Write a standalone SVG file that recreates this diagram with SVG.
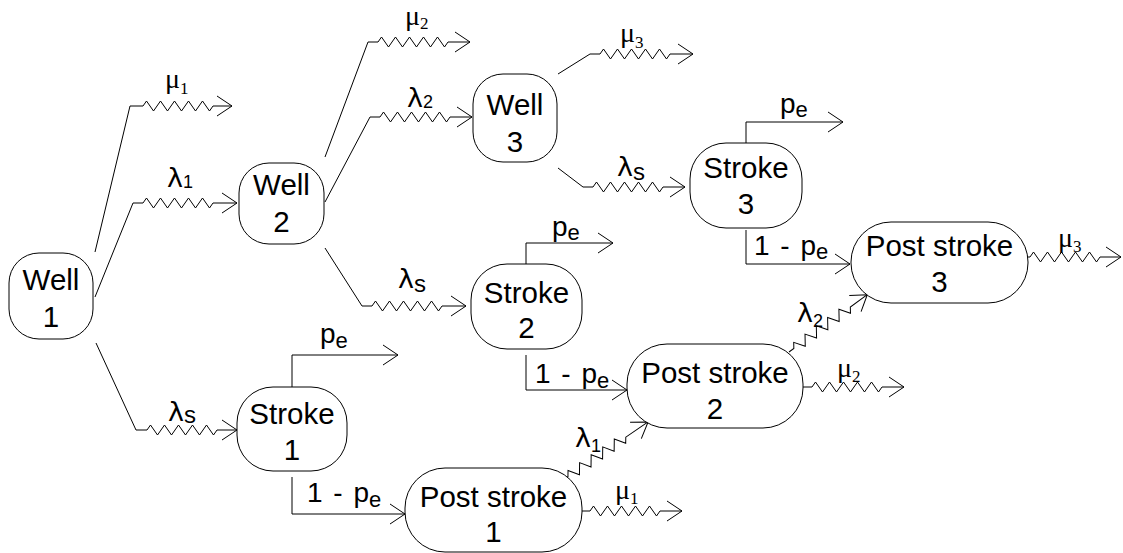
<svg xmlns="http://www.w3.org/2000/svg" width="1123" height="553" viewBox="0 0 1123 553">
<style>
.box{fill:#fff;stroke:#000;stroke-width:1}
.nt{font-family:"Liberation Sans",Arial,sans-serif;font-size:29.5px;text-anchor:middle;fill:#000}
.c{fill:none;stroke:#000;stroke-width:1}
.la{font-family:"DejaVu Sans","Liberation Sans",sans-serif;font-size:27px;fill:#000}
.mu{font-family:"Liberation Serif","Times New Roman",serif;font-size:28px;fill:#000}
.sd{font-family:"Liberation Sans",Arial,sans-serif;font-size:18px}
.ss{font-family:"Liberation Serif","Times New Roman",serif;font-size:17px}
.sv{font-family:"Liberation Sans",Arial,sans-serif;font-size:24px}
.lb{font-family:"Liberation Sans",Arial,sans-serif;font-size:28px;fill:#000;word-spacing:3px}
.se{font-size:22px}
</style>
<defs>
<marker id="arr" markerUnits="userSpaceOnUse" markerWidth="18" markerHeight="24" viewBox="-1 -1 18 24" refX="15" refY="10" orient="auto" overflow="visible">
<path d="M0,0 L15,10 L0,20" fill="none" stroke="#000" stroke-width="1"/>
</marker>
</defs>
<g id="connectors">
<path class="c" marker-end="url(#arr)" d="M95,252 L130,106 H143 l3.5,-5 l7,10 l7,-10 l7,10 l7,-10 l7,10 l7,-10 l7,10 l7,-10 l7,10 l3.5,-5 H232"/>
<path class="c" marker-end="url(#arr)" d="M95,297 L133,203 H143 l3.5,-5 l7,10 l7,-10 l7,10 l7,-10 l7,10 l7,-10 l7,10 l7,-10 l7,10 l3.5,-5 H237"/>
<path class="c" marker-end="url(#arr)" d="M96,343 L136,430 H147 l3.5,-5 l7,10 l7,-10 l7,10 l7,-10 l7,10 l7,-10 l7,10 l7,-10 l7,10 l3.5,-5 H237"/>
<path class="c" marker-end="url(#arr)" d="M325,157 L368,42 H378 l3.5,-5 l7,10 l7,-10 l7,10 l7,-10 l7,10 l7,-10 l7,10 l7,-10 l7,10 l3.5,-5 H470"/>
<path class="c" marker-end="url(#arr)" d="M325,202 L370,117 H380 l3.5,-5 l7,10 l7,-10 l7,10 l7,-10 l7,10 l7,-10 l7,10 l7,-10 l7,10 l3.5,-5 H472"/>
<path class="c" marker-end="url(#arr)" d="M325,248 L362,306 H372 l3.5,-5 l7,10 l7,-10 l7,10 l7,-10 l7,10 l7,-10 l7,10 l7,-10 l7,10 l3.5,-5 H466"/>
<path class="c" marker-end="url(#arr)" d="M558,74 L590,54 H600 l3.5,-5 l7,10 l7,-10 l7,10 l7,-10 l7,10 l7,-10 l7,10 l7,-10 l7,10 l3.5,-5 H693"/>
<path class="c" marker-end="url(#arr)" d="M558,168 L583,187 H593 l3.5,-5 l7,10 l7,-10 l7,10 l7,-10 l7,10 l7,-10 l7,10 l7,-10 l7,10 l3.5,-5 H685"/>
<path class="c" marker-end="url(#arr)" d="M292,387 V355 H398"/>
<path class="c" marker-end="url(#arr)" d="M292,477 V514 H405"/>
<path class="c" marker-end="url(#arr)" d="M526,264 V243 H613"/>
<path class="c" marker-end="url(#arr)" d="M526,355 V390 H627"/>
<path class="c" marker-end="url(#arr)" d="M746,143 V122 H843"/>
<path class="c" marker-end="url(#arr)" d="M746,230 V264 H850"/>
<path class="c" marker-end="url(#arr)" transform="translate(563,480) rotate(-34.3)" d="M0,0 H6 l3.5,-5 l7,10 l7,-10 l7,10 l7,-10 l7,10 l7,-10 l7,10 l7,-10 l7,10 l3.5,-5 H103"/>
<path class="c" marker-end="url(#arr)" transform="translate(789,352) rotate(-36.2)" d="M0,0 H6 l3.5,-5 l7,10 l7,-10 l7,10 l7,-10 l7,10 l7,-10 l7,10 l7,-10 l7,10 l3.5,-5 H97"/>
<path class="c" marker-end="url(#arr)" d="M580,511 H590 l3.5,-5 l7,10 l7,-10 l7,10 l7,-10 l7,10 l7,-10 l7,10 l7,-10 l7,10 l3.5,-5 H682"/>
<path class="c" marker-end="url(#arr)" d="M802,387 H812 l3.5,-5 l7,10 l7,-10 l7,10 l7,-10 l7,10 l7,-10 l7,10 l7,-10 l7,10 l3.5,-5 H904"/>
<path class="c" marker-end="url(#arr)" d="M1023,257 H1030 l3.5,-5 l7,10 l7,-10 l7,10 l7,-10 l7,10 l7,-10 l7,10 l7,-10 l7,10 l3.5,-5 H1121"/>
</g>
<g id="labels">
<text class="mu" x="165" y="88">μ<tspan class="ss" y="94">1</tspan></text>
<text class="la" x="167" y="187">λ<tspan class="sd" y="188">1</tspan></text>
<text class="la" x="168" y="421">λ<tspan class="sv" y="423">s</tspan></text>
<text class="mu" x="405" y="25">μ<tspan class="ss" y="29">2</tspan></text>
<text class="la" x="407" y="107">λ<tspan class="sd" y="108">2</tspan></text>
<text class="la" x="398" y="288">λ<tspan class="sv" y="292">s</tspan></text>
<text class="mu" x="620" y="42">μ<tspan class="ss" y="48">3</tspan></text>
<text class="la" x="617" y="176">λ<tspan class="sv" y="180">s</tspan></text>
<text class="lb" x="320" y="343">p<tspan class="se" y="348">e</tspan></text>
<text class="lb" x="307" y="502">1 - p<tspan class="se" y="507">e</tspan></text>
<text class="lb" x="552" y="236">p<tspan class="se" y="240">e</tspan></text>
<text class="lb" x="535" y="383">1 - p<tspan class="se" y="388">e</tspan></text>
<text class="lb" x="780" y="113">p<tspan class="se" y="117">e</tspan></text>
<text class="lb" x="754" y="255">1 - p<tspan class="se" y="259">e</tspan></text>
<text class="la" x="575" y="447">λ<tspan class="sd" y="452">1</tspan></text>
<text class="mu" x="615" y="499">μ<tspan class="ss" y="504">1</tspan></text>
<text class="mu" x="837" y="377">μ<tspan class="ss" y="382">2</tspan></text>
<text class="la" x="797" y="322">λ<tspan class="sd" y="327">2</tspan></text>
<text class="mu" x="1058" y="247">μ<tspan class="ss" y="252">3</tspan></text>
</g>
<g id="well1"><rect class="box" x="9" y="253" width="84" height="86" rx="30"/><text class="nt" x="51" y="290">Well</text><text class="nt" x="51" y="327">1</text></g>
<g id="well2"><rect class="box" x="239" y="163" width="85" height="81" rx="30"/><text class="nt" x="281.5" y="195">Well</text><text class="nt" x="281.5" y="232">2</text></g>
<g id="well3"><rect class="box" x="473" y="74" width="84" height="88" rx="30"/><text class="nt" x="515" y="115">Well</text><text class="nt" x="515" y="152">3</text></g>
<g id="stroke1"><rect class="box" x="237" y="387" width="110" height="84" rx="36"/><text class="nt" x="292" y="424">Stroke</text><text class="nt" x="292" y="460">1</text></g>
<g id="stroke2"><rect class="box" x="471" y="264" width="111" height="85" rx="36"/><text class="nt" x="526.5" y="303">Stroke</text><text class="nt" x="526.5" y="338">2</text></g>
<g id="stroke3"><rect class="box" x="690" y="143" width="112" height="85" rx="36"/><text class="nt" x="746" y="178">Stroke</text><text class="nt" x="746" y="214">3</text></g>
<g id="post1"><rect class="box" x="405" y="468" width="177" height="84" rx="40"/><text class="nt" x="493.5" y="507">Post stroke</text><text class="nt" x="493.5" y="542">1</text></g>
<g id="post2"><rect class="box" x="627" y="344" width="176" height="84" rx="40"/><text class="nt" x="715" y="383">Post stroke</text><text class="nt" x="715" y="419">2</text></g>
<g id="post3"><rect class="box" x="851" y="222" width="177" height="81" rx="40"/><text class="nt" x="939.5" y="256">Post stroke</text><text class="nt" x="939.5" y="292">3</text></g>
</svg>
